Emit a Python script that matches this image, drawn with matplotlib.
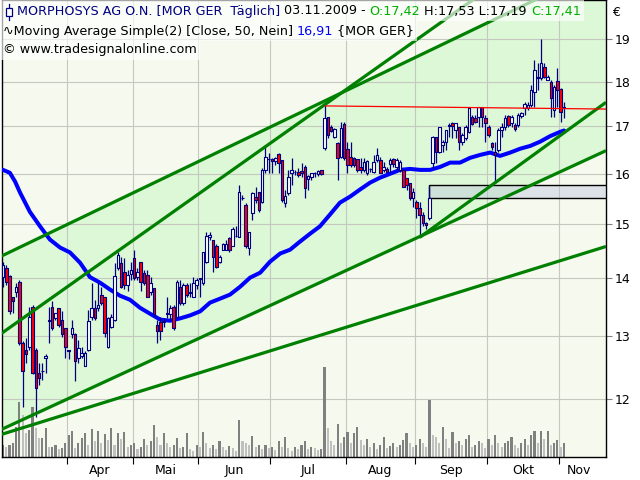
import numpy as np
import matplotlib
matplotlib.use('Agg')
import matplotlib.pyplot as plt
from matplotlib.patches import Rectangle
from matplotlib.lines import Line2D
from matplotlib.collections import LineCollection, PatchCollection
from matplotlib.transforms import blended_transform_factory
from matplotlib.ticker import NullLocator

# ---------------- Daten (MOR GER, täglich) ----------------
opens = [14.02, 14.19, 14.04, 13.66, 13.75, 13.94, 12.89, 12.78, 12.83, 13.50,
         12.78, 12.40, 12.43, 12.64, 13.26, 13.50, 13.31, 13.48, 13.28, 13.14,
         12.78, 13.03, 13.03, 12.65, 12.67, 12.52, 12.78, 13.33, 13.48, 13.47,
         13.71, 13.67, 12.83, 13.16, 13.28, 14.19, 14.28, 14.11, 13.88, 14.08,
         14.37, 14.02, 14.30, 14.10, 14.06, 13.75, 13.83, 13.19, 13.23, 13.23,
         13.37, 13.37, 13.50, 13.33, 13.85, 13.57, 13.88, 13.73, 13.67, 13.88,
         13.99, 13.92, 14.30, 14.75, 14.71, 14.58, 14.30, 14.52, 14.52, 14.73,
         14.58, 14.77, 14.75, 15.52, 15.38, 14.56, 15.22, 15.54, 15.64, 15.44,
         16.08, 16.31, 16.31, 16.27, 16.42, 16.29, 15.42, 15.62, 16.02, 16.04,
         16.04, 16.06, 16.14, 15.90, 15.94, 16.02, 16.00, 16.08, 16.54, 17.21,
         16.98, 16.77, 16.65, 16.35, 17.05, 16.52, 16.35, 16.33, 16.31, 16.14,
         16.08, 16.02, 16.10, 16.04, 16.29, 16.29, 16.08, 16.10, 16.21, 16.31,
         16.14, 16.08, 16.08, 15.92, 15.82, 15.52, 15.44, 15.32, 15.18, 15.03,
         15.13, 16.23, 16.77, 16.46, 16.60, 16.67, 17.01, 17.07, 16.92, 16.98,
         16.67, 16.75, 16.88, 17.21, 17.18, 17.21, 17.43, 17.18, 16.98, 16.65,
         16.46, 16.50, 16.92, 16.98, 17.23, 17.07, 17.03, 17.03, 17.23, 17.41,
         17.41, 17.48, 17.77, 18.08, 18.08, 18.34, 18.04, 17.99, 17.36, 18.02,
         17.83, 17.42]
highs = [14.30, 14.23, 14.06, 13.67, 13.92, 13.97, 12.92, 12.97, 13.50, 13.53,
         12.81, 12.57, 12.57, 12.70, 13.50, 13.59, 13.40, 13.48, 13.42, 13.14,
         12.78, 13.28, 13.06, 12.94, 12.83, 12.75, 13.45, 13.92, 13.62, 13.94,
         13.85, 13.67, 13.33, 13.37, 14.28, 14.48, 14.39, 14.37, 14.15, 14.30,
         14.52, 14.19, 14.30, 14.15, 14.15, 14.02, 13.83, 13.28, 13.33, 13.31,
         13.66, 13.53, 13.53, 13.97, 13.97, 13.92, 13.92, 13.92, 14.02, 14.01,
         14.01, 14.48, 14.86, 14.86, 14.71, 14.62, 14.43, 14.65, 14.71, 14.75,
         14.94, 14.96, 15.78, 15.58, 15.42, 14.86, 15.64, 15.74, 15.64, 16.12,
         16.60, 16.44, 16.33, 16.35, 16.44, 16.29, 15.68, 16.08, 16.33, 16.08,
         16.12, 16.23, 16.18, 15.98, 16.02, 16.04, 16.08, 16.08, 17.48, 17.21,
         17.03, 16.96, 16.67, 17.10, 17.10, 16.67, 16.67, 16.35, 16.31, 16.33,
         16.33, 16.29, 16.12, 16.39, 16.54, 16.35, 16.25, 16.14, 16.33, 16.33,
         16.33, 16.29, 16.08, 15.92, 15.82, 15.72, 15.48, 15.44, 15.24, 15.05,
         15.76, 16.79, 16.77, 16.98, 16.71, 16.92, 17.07, 17.10, 17.07, 16.98,
         16.86, 17.03, 17.43, 17.25, 17.25, 17.43, 17.43, 17.25, 17.03, 16.67,
         16.67, 16.96, 17.07, 17.25, 17.25, 17.25, 17.07, 17.30, 17.32, 17.54,
         17.54, 17.93, 18.51, 18.44, 19.01, 18.44, 18.16, 18.04, 17.93, 18.32,
         17.86, 17.53]
lows = [13.85, 13.88, 13.37, 13.40, 13.67, 12.86, 11.88, 12.57, 12.78, 12.38,
        11.72, 12.22, 12.30, 12.41, 12.89, 13.11, 13.28, 13.16, 12.99, 12.65,
        12.62, 12.97, 12.27, 12.57, 12.65, 12.51, 12.75, 13.28, 13.28, 13.42,
        13.53, 12.99, 12.81, 13.14, 13.25, 14.15, 13.83, 13.80, 13.77, 13.97,
        13.97, 13.97, 13.77, 13.88, 13.67, 13.71, 13.33, 12.89, 12.94, 13.16,
        13.31, 13.28, 13.11, 13.31, 13.53, 13.53, 13.67, 13.67, 13.66, 13.80,
        13.66, 13.88, 14.28, 14.71, 14.11, 14.19, 14.28, 14.52, 14.52, 14.48,
        14.58, 14.75, 14.75, 15.48, 14.56, 14.43, 15.09, 15.42, 15.24, 15.42,
        16.02, 16.02, 16.02, 16.18, 16.02, 15.44, 15.34, 15.58, 15.78, 15.98,
        15.94, 15.94, 15.52, 15.68, 15.88, 15.94, 15.96, 15.98, 16.50, 16.75,
        16.88, 16.75, 15.88, 16.33, 16.29, 16.02, 16.14, 16.14, 16.04, 16.02,
        16.04, 15.98, 16.04, 16.02, 16.25, 16.02, 16.04, 16.04, 16.04, 16.14,
        16.08, 16.04, 15.74, 15.68, 15.48, 15.34, 15.13, 14.75, 14.96, 14.90,
        15.09, 16.12, 16.23, 16.44, 16.46, 16.50, 16.77, 16.75, 16.75, 16.50,
        16.60, 16.71, 16.86, 17.03, 17.07, 16.98, 16.98, 16.67, 16.77, 16.50,
        15.82, 16.46, 16.77, 16.92, 16.98, 16.98, 16.90, 16.98, 17.18, 17.25,
        17.36, 17.43, 17.43, 17.81, 18.04, 18.08, 18.04, 17.21, 17.21, 17.43,
        17.10, 17.19]
closes = [14.23, 13.94, 13.42, 13.60, 13.85, 12.89, 12.43, 12.70, 13.33, 12.41,
          12.17, 12.33, 12.44, 12.68, 13.28, 13.14, 13.40, 13.19, 13.03, 12.83,
          12.76, 13.13, 12.59, 12.80, 12.73, 12.73, 13.25, 13.48, 13.31, 13.53,
          13.57, 13.06, 13.31, 13.33, 14.04, 14.43, 13.85, 13.88, 14.06, 14.15,
          14.01, 14.11, 13.94, 13.92, 13.67, 13.92, 13.38, 13.08, 13.08, 13.26,
          13.40, 13.48, 13.14, 13.94, 13.57, 13.88, 13.71, 13.76, 13.92, 13.97,
          14.00, 14.47, 14.77, 14.79, 14.39, 14.21, 14.39, 14.62, 14.62, 14.52,
          14.90, 14.77, 15.64, 15.52, 14.58, 14.86, 15.62, 15.48, 15.28, 16.08,
          16.35, 16.31, 16.27, 16.33, 16.23, 15.48, 15.56, 15.94, 16.08, 16.04,
          15.98, 16.02, 15.72, 15.96, 16.02, 16.02, 16.06, 16.00, 17.18, 16.81,
          16.90, 16.94, 16.33, 16.96, 16.33, 16.18, 16.18, 16.18, 16.08, 16.08,
          16.25, 16.27, 16.10, 16.25, 16.39, 16.02, 16.14, 16.04, 16.29, 16.21,
          16.29, 16.25, 15.74, 15.78, 15.52, 15.64, 15.32, 15.18, 15.03, 14.98,
          15.52, 16.77, 16.46, 16.98, 16.67, 16.92, 17.03, 17.01, 17.07, 16.67,
          16.81, 16.98, 17.41, 17.05, 17.10, 17.43, 17.21, 17.07, 16.81, 16.56,
          16.39, 16.92, 16.98, 17.18, 17.03, 17.21, 16.94, 17.25, 17.30, 17.50,
          17.48, 17.81, 18.27, 18.11, 18.44, 18.11, 18.11, 17.63, 17.88, 17.81,
          17.32, 17.41]
volume = [12, 10, 12, 14, 30, 55, 42, 24, 27, 50,
          29, 19, 19, 29, 10, 10, 12, 8, 9, 14,
          22, 26, 9, 14, 19, 24, 12, 28, 16, 26,
          14, 23, 17, 29, 12, 24, 18, 25, 10, 12,
          14, 8, 10, 18, 12, 16, 32, 20, 12, 24,
          14, 10, 12, 19, 9, 10, 24, 8, 6, 12,
          10, 25, 14, 9, 12, 8, 16, 10, 7, 11,
          9, 6, 37, 16, 14, 12, 21, 10, 12, 8,
          12, 9, 10, 7, 16, 10, 20, 9, 6, 10,
          8, 12, 16, 8, 10, 9, 7, 8, 90, 29,
          16, 12, 33, 14, 20, 25, 14, 24, 30, 17,
          12, 18, 10, 14, 8, 12, 20, 9, 11, 14,
          10, 12, 17, 24, 14, 10, 12, 18, 14, 10,
          57, 22, 20, 14, 30, 18, 9, 25, 14, 16,
          12, 18, 22, 10, 12, 16, 14, 9, 18, 12,
          22, 14, 10, 14, 16, 20, 12, 9, 14, 18,
          12, 22, 26, 14, 26, 18, 26, 12, 14, 17,
          10, 14]

# Moving Average Simple (50)
ma_x = [0, 2.1, 3.7, 5.2, 8.2, 11.3, 14.3, 17.4, 20.4, 23.5, 26.5, 29.6, 32.6,
        35.7, 38.7, 41.8, 44.8, 47.9, 50.9, 54, 57, 60.1, 63.1, 66.2, 69.2,
        72.3, 75.3, 78.4, 81.4, 84.5, 87.5, 90.5, 93.6, 96.6, 99.7, 102.7,
        105.8, 108.8, 111.9, 114.9, 118, 121, 124.1, 127.1, 130.2, 133.2,
        136.3, 139.3, 142.4, 145.4, 148.5, 151.5, 154.6, 157.6, 160.7, 163.7,
        166.8, 169.8, 171]
ma_y = [16.08, 16.02, 15.84, 15.62, 15.24, 14.96, 14.71, 14.56, 14.47, 14.28,
        14.02, 13.92, 13.80, 13.69, 13.62, 13.48, 13.38, 13.28, 13.26, 13.30,
        13.35, 13.42, 13.57, 13.64, 13.71, 13.85, 14.01, 14.10, 14.30, 14.45,
        14.52, 14.67, 14.82, 14.96, 15.19, 15.42, 15.54, 15.68, 15.82, 15.92,
        16.00, 16.08, 16.10, 16.08, 16.08, 16.14, 16.23, 16.23, 16.33, 16.39,
        16.44, 16.37, 16.44, 16.52, 16.58, 16.67, 16.79, 16.88, 16.91]

month_ticks = [19.5, 39.5, 59.5, 81.5, 104.5, 125.5, 147.5, 169.5]
month_label_pos = [29.5, 49.5, 70.5, 93, 115, 136.5, 158.5, 175.5]
month_labels = ['Apr', 'Mai', 'Jun', 'Jul', 'Aug', 'Sep', 'Okt', 'Nov']
price_ticks = [12, 13, 14, 15, 16, 17, 18, 19]

# Zeichnungen (Trendkanal, Trendlinien, Widerstand, Gap-Box)
chan_up_x, chan_up_y = [-0.9, 183.8], [14.39, 20.87]
chan_lo_x, chan_lo_y = [-0.9, 183.8], [11.53, 16.48]
steep_up_x, steep_up_y = [-0.9, 183.8], [13.03, 22.54]
steep_lo_x, steep_lo_y = [127.0, 183.8], [14.75, 17.53]
support_x, support_y = [-0.9, 183.8], [11.46, 14.58]
resist_x, resist_y = [98.2, 183.8], [17.45, 17.38]
gap_x0, gap_lo, gap_hi = 129.7, 15.52, 15.77

W, H = 640, 480
BG = '#f6faee'
BAND = '#ddf8d6'
GRID = '#c4c8c0'
NAVY = '#000080'
GREEN = '#008000'

fig = plt.figure(figsize=(6.4, 4.8), dpi=100, facecolor='white')
ax = fig.add_axes([2 / W, 1 - 457 / H, 604 / W, 457 / H])
ax.set_facecolor(BG)
ax.set_yscale('log')
ax.set_xlim(-0.3, 183.8)
ax.set_ylim(11.14, 19.98)

# Kanal-Fläche
ax.fill([chan_up_x[0], chan_up_x[1], chan_lo_x[1], chan_lo_x[0]],
        [chan_up_y[0], chan_up_y[1], chan_lo_y[1], chan_lo_y[0]],
        color=BAND, lw=0, zorder=0.5)

# Gitter
for p in price_ticks:
    ax.axhline(p, color=GRID, lw=0.8, zorder=1)
for m in month_ticks:
    ax.axvline(m, color=GRID, lw=0.8, zorder=1)

# Volumen unten
trans_vol = blended_transform_factory(ax.transData, ax.transAxes)
vbars = []
vcols = []
for i, v in enumerate(volume):
    vbars.append(Rectangle((i - 0.32, 0), 0.64, v / 457.0))
    if i > 0 and v < volume[i - 1]:
        vcols.append('#c0c0c0')
    else:
        vcols.append('#808080')
pc_vol = PatchCollection(vbars, facecolors=vcols, edgecolors='none',
                         transform=trans_vol, zorder=2)
ax.add_collection(pc_vol, autolim=False)

# Gap-Box
ax.add_patch(Rectangle((gap_x0, gap_lo), 200, gap_hi - gap_lo,
                       facecolor='#b0b8e0', alpha=0.35, edgecolor='none', zorder=3))
ax.add_patch(Rectangle((gap_x0, gap_lo), 200, gap_hi - gap_lo,
                       facecolor='none', edgecolor='black', lw=1.0, zorder=3.1))

# Moving Average
ax.plot(ma_x, ma_y, color='#0000ff', lw=2.9, zorder=4, solid_capstyle='round')

# Kerzen
n = len(closes)
wicks = [[(i, lows[i]), (i, highs[i])] for i in range(n)]
ax.add_collection(LineCollection(wicks, colors=NAVY, linewidths=0.9, zorder=5))
bodies = []
bcols = []
for i in range(n):
    lo = min(opens[i], closes[i])
    hi = max(opens[i], closes[i])
    bodies.append(Rectangle((i - 0.39, lo), 0.78, hi - lo))
    bcols.append('red' if closes[i] < opens[i] else 'white')
ax.add_collection(PatchCollection(bodies, facecolors=bcols, edgecolors=NAVY,
                                  linewidths=0.8, zorder=6))

# Trendlinien
for xs, ys in [(chan_up_x, chan_up_y), (chan_lo_x, chan_lo_y),
               (steep_up_x, steep_up_y), (steep_lo_x, steep_lo_y),
               (support_x, support_y)]:
    ax.plot(xs, ys, color=GREEN, lw=2.3, zorder=7, solid_capstyle='butt')
ax.plot(resist_x, resist_y, color='#ff0000', lw=0.9, zorder=7.5)

# Achsen
ax.yaxis.tick_right()
ax.set_yticks(price_ticks)
ax.set_yticklabels([str(p) for p in price_ticks])
ax.yaxis.set_minor_locator(NullLocator())
ax.tick_params(axis='y', which='major', length=4, color='#808080',
               labelsize=9, pad=2)
ax.set_xticks(month_ticks)
ax.set_xticklabels([''] * len(month_ticks))
ax.set_xticks(month_label_pos, minor=True)
ax.set_xticklabels(month_labels, minor=True)
ax.tick_params(axis='x', which='major', length=5, color='black', direction='out')
ax.tick_params(axis='x', which='minor', length=0, labelsize=9, pad=5)
for s in ax.spines.values():
    s.set_color('black')
    s.set_linewidth(1.0)

fig.text(612 / W, 1 - 12 / H, '€', fontsize=9, va='center', ha='left')

# Kopfzeilen
renderer = fig.canvas.get_renderer()
HS = 9.2


def text_width(s):
    t = fig.text(0, 0, '|' + s + '|', fontsize=HS)
    w1 = t.get_window_extent(renderer).width
    t.remove()
    t = fig.text(0, 0, '||', fontsize=HS)
    w0 = t.get_window_extent(renderer).width
    t.remove()
    return w1 - w0


def write_parts(parts, x_px, y_px):
    x = x_px
    for s, c in parts:
        fig.text(x / W, 1 - y_px / H, s, color=c, fontsize=HS,
                 va='center', ha='left', zorder=21)
        x += text_width(s)
    return x


lines = [
    ([('MORPHOSYS AG O.N. [MOR GER  Täglich] ', NAVY), ('03.11.2009 - ', 'black'),
      ('O:17,42', '#00b000'), (' H:17,53 L:17,19 ', 'black'), ('C:17,41', '#00b000')],
     17, 11, 0, 21),
    ([('∿Moving Average Simple(2) [Close, 50, Nein] ', 'black'), ('16,91', '#0000ff'),
      (' {MOR GER}', 'black')], 3, 31, 21, 41),
    ([('© www.tradesignalonline.com', 'black')], 3, 50, 41, 60),
]
for parts, x0, yc, top, bot in lines:
    x_end = write_parts(parts, x0, yc)
    fig.add_artist(Rectangle((0, 1 - bot / H), (x_end + 3) / W, (bot - top) / H,
                             transform=fig.transFigure, facecolor='white',
                             alpha=0.65, edgecolor='none', zorder=20))

# Kerzen-Symbol vor dem Titel
fig.add_artist(Line2D([9 / W, 9 / W], [1 - 4 / H, 1 - 20 / H],
                      transform=fig.transFigure, color=NAVY, lw=0.9, zorder=22))
fig.add_artist(Rectangle((6 / W, 1 - 16 / H), 6 / W, 8 / H, transform=fig.transFigure,
                         facecolor='white', edgecolor=NAVY, lw=0.9, zorder=23))

fig.savefig('out.png', dpi=100, facecolor='white')
